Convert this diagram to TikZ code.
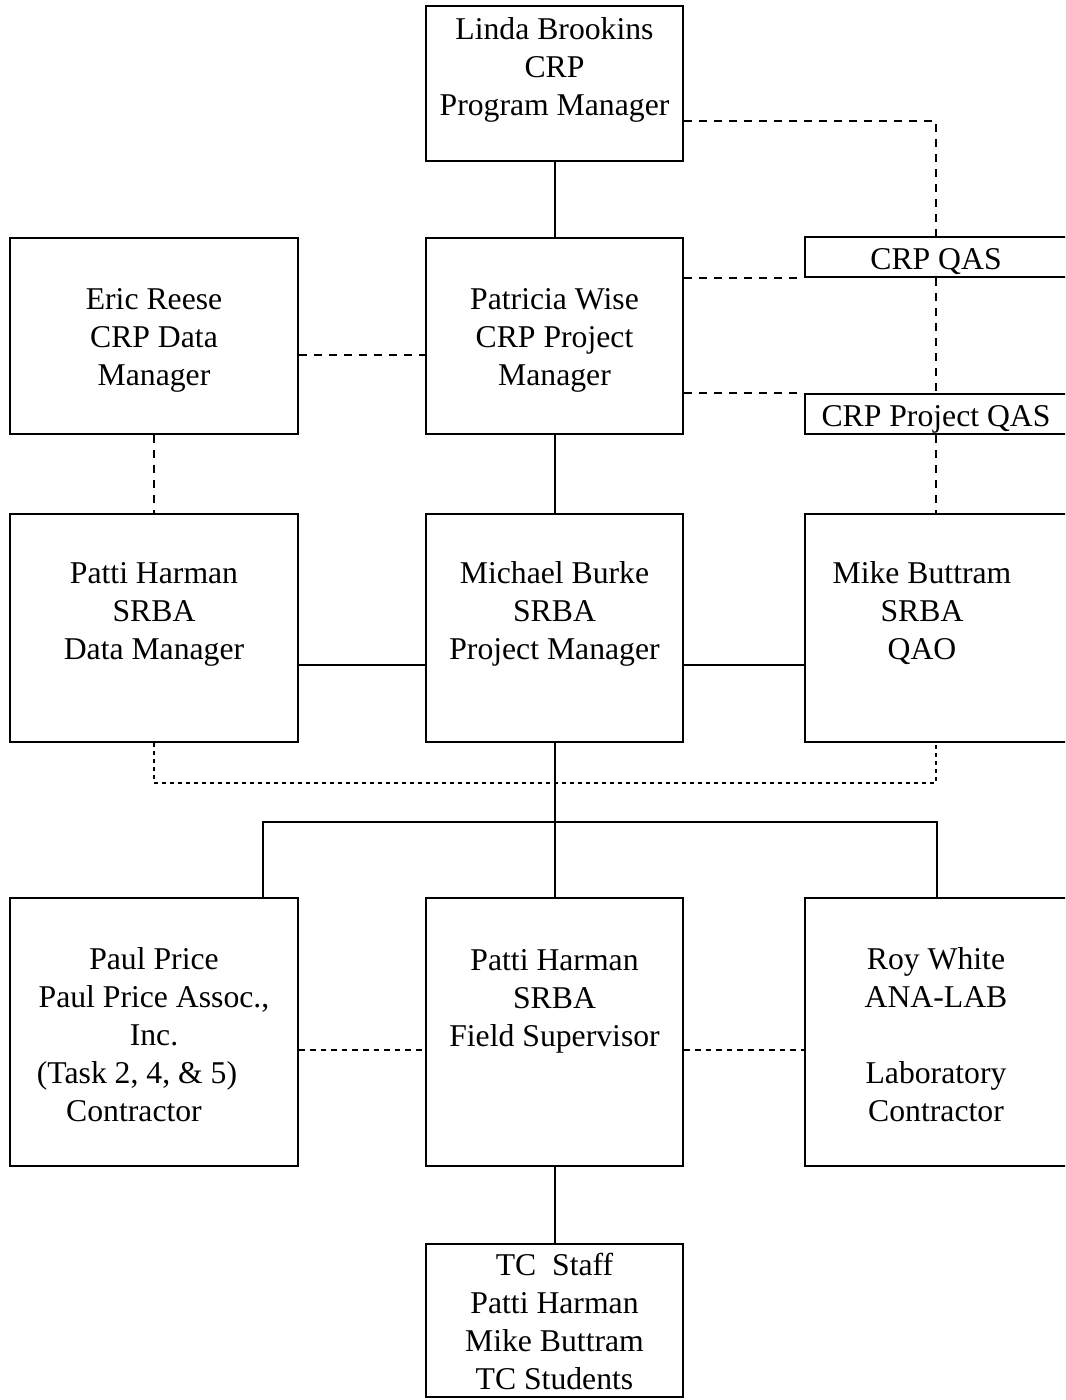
\documentclass[tikz,border=0pt]{standalone}
\usepackage{fontspec}
\setmainfont{Liberation Serif}
\newcommand\dn[1]{\rule{0pt}{\dimexpr 10.9pt+#1\relax}}
\begin{document}
\begin{tikzpicture}[x=0.5pt,y=-0.5pt,
  box/.style={draw, line width=1.3pt, rectangle, inner sep=0pt, align=center,
    font=\fontsize{15.85pt}{19pt}\selectfont},
  wbox/.style={box, minimum width=128.5pt},
  lbox/.style={box, minimum width=144pt},
  rbox/.style={box, minimum width=131pt},
  solidline/.style={line width=1pt},
  dashline/.style={line width=1.1pt, dash pattern=on 4pt off 3.5pt},
  finedash/.style={line width=1pt, dash pattern=on 2.8pt off 2.5pt},
  dotline/.style={line width=1.1pt, dash pattern=on 2pt off 2pt}]
\useasboundingbox (0,0) rectangle (1065,1400);
\clip (0,0) rectangle (1065,1400);

% boxes
\node[wbox, minimum height=77.5pt] (linda) at (554.5,83.5) {Linda Brookins\\CRP\\Program Manager\rule[-17.4pt]{0pt}{17.4pt}};
\node[lbox, minimum height=98pt] (eric) at (154,336) {\dn{4pt}Eric Reese\\CRP Data\\Manager};
\node[wbox, minimum height=98pt] (patricia) at (554.5,336) {\dn{4pt}Patricia Wise\\CRP Project\\Manager};
\node[rbox, minimum height=20pt] (crpqas) at (936,257) {\dn{4pt}CRP QAS};
\node[rbox, minimum height=20pt] (crpproj) at (936,414) {\dn{5pt}CRP Project QAS};
\node[lbox, minimum height=114pt] (pattidm) at (154,628) {\dn{7pt}Patti Harman\\SRBA\\Data Manager\\\strut};
\node[wbox, minimum height=114pt] (michael) at (554.5,628) {\dn{7pt}Michael Burke\\SRBA\\Project Manager\\\strut};
\node[rbox, minimum height=114pt] (mike) at (936,628) {\dn{7pt}Mike Buttram\rule{14pt}{0pt}\\SRBA\rule{14pt}{0pt}\\QAO\rule{14pt}{0pt}\\\strut};
\node[lbox, minimum height=134pt] (paul) at (154,1032) {\dn{3pt}Paul Price\\Paul Price Assoc.,\\Inc.\\(Task 2, 4, \& 5)\rule{17pt}{0pt}\\Contractor\rule{20pt}{0pt}};
\node[wbox, minimum height=134pt] (pfield) at (554.5,1032) {\dn{9pt}Patti Harman\\SRBA\\Field Supervisor\\\strut\\\strut};
\node[rbox, minimum height=134pt] (roy) at (936,1032) {\dn{3pt}Roy White\\ANA-LAB\\\strut\\Laboratory\\Contractor};
\node[wbox, minimum height=76.5pt] (tc) at (554.5,1320.5) {\dn{1pt}TC\ \ Staff\\Patti Harman\\Mike Buttram\\TC Students};

\coordinate (busL) at (263,822);
\coordinate (busR) at (937,822);

% solid connectors
\draw[solidline] (linda.south) -- (patricia.north);
\draw[solidline] (patricia.south) -- (michael.north);
\draw[solidline] (pattidm.east |- 0,665) -- (michael.west |- 0,665);
\draw[solidline] (michael.east |- 0,665) -- (mike.west |- 0,665);
\draw[solidline] (michael.south) -- (pfield.north);
\draw[solidline] (paul.north -| busL) -- (busL) -- (busR) -- (roy.north -| busR);
\draw[solidline] (pfield.south) -- (tc.north);

% dashed connectors
\draw[dashline] (linda.east |- 0,121) -| (crpqas.north);
\draw[dashline] (crpqas.south) -- (crpproj.north);
\draw[dashline] (crpproj.south) -- (mike.north);
\draw[dashline] (patricia.east |- crpqas.south) -- (crpqas.south west);
\draw[dashline] (patricia.east |- crpproj.north) -- (crpproj.north west);
\draw[dashline] (eric.east |- 0,355) -- (patricia.west |- 0,355);
\draw[dashline] (eric.south) -- (pattidm.north);
\draw[dotline] (pattidm.south) -- (pattidm.south |- 0,783) -- (mike.south |- 0,783) -- (mike.south);
\draw[finedash] (paul.east |- 0,1050) -- (pfield.west |- 0,1050);
\draw[finedash] (pfield.east |- 0,1050) -- (roy.west |- 0,1050);
\end{tikzpicture}
\end{document}
